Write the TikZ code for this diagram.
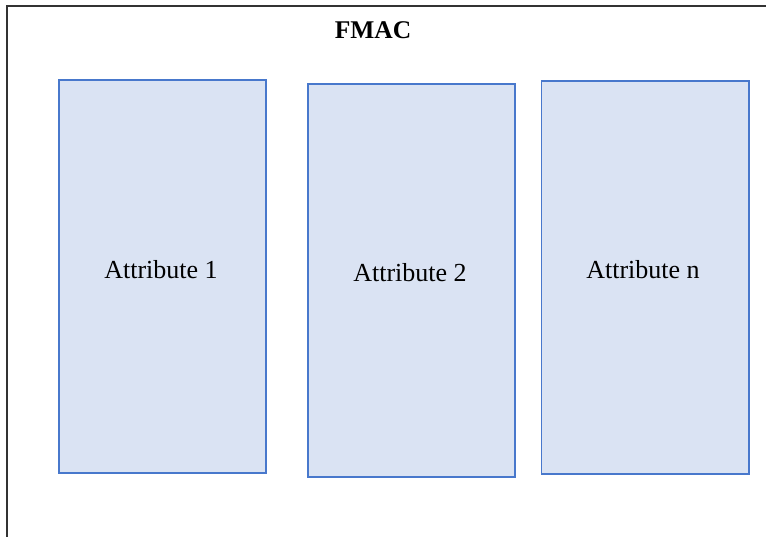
\documentclass[tikz,border=0pt]{standalone}
\usepackage{fontspec}
\setmainfont{Liberation Serif}
\definecolor{attrfill}{HTML}{DAE3F3}
\definecolor{attrline}{HTML}{4878CC}
\definecolor{framegray}{HTML}{333333}
\begin{document}
\begin{tikzpicture}[x=1pt,y=-1pt,
  attrbox/.style={draw=attrline,fill=attrfill,line width=1.3pt},
  attrlabel/.style={font=\fontsize{26}{31}\selectfont},
  titlelabel/.style={font=\fontsize{25.5}{30}\selectfont\bfseries}]
  \useasboundingbox (0,0) rectangle (766,537);
  % outer frame (only its left and top sides fall inside the page)
  \coordinate (fbl) at (7,540);
  \coordinate (ftl) at (7,6);
  \coordinate (ftr) at (770,6);
  \draw[framegray,line width=2pt] (fbl) -- (ftl) -- (ftr);
  \node[titlelabel] (title) at (373,30) {FMAC};
  % attribute columns
  \draw[attrbox] (59,80) rectangle (266,473);
  \draw[attrbox] (308,84) rectangle (515,477);
  \draw[attrbox] (541.5,81) rectangle (749,474);
  \node[attrlabel] (a1) at (161,270) {Attribute 1};
  \node[attrlabel] (a2) at (410,273) {Attribute 2};
  \node[attrlabel] (an) at (643,270) {Attribute n};
\end{tikzpicture}
\end{document}
